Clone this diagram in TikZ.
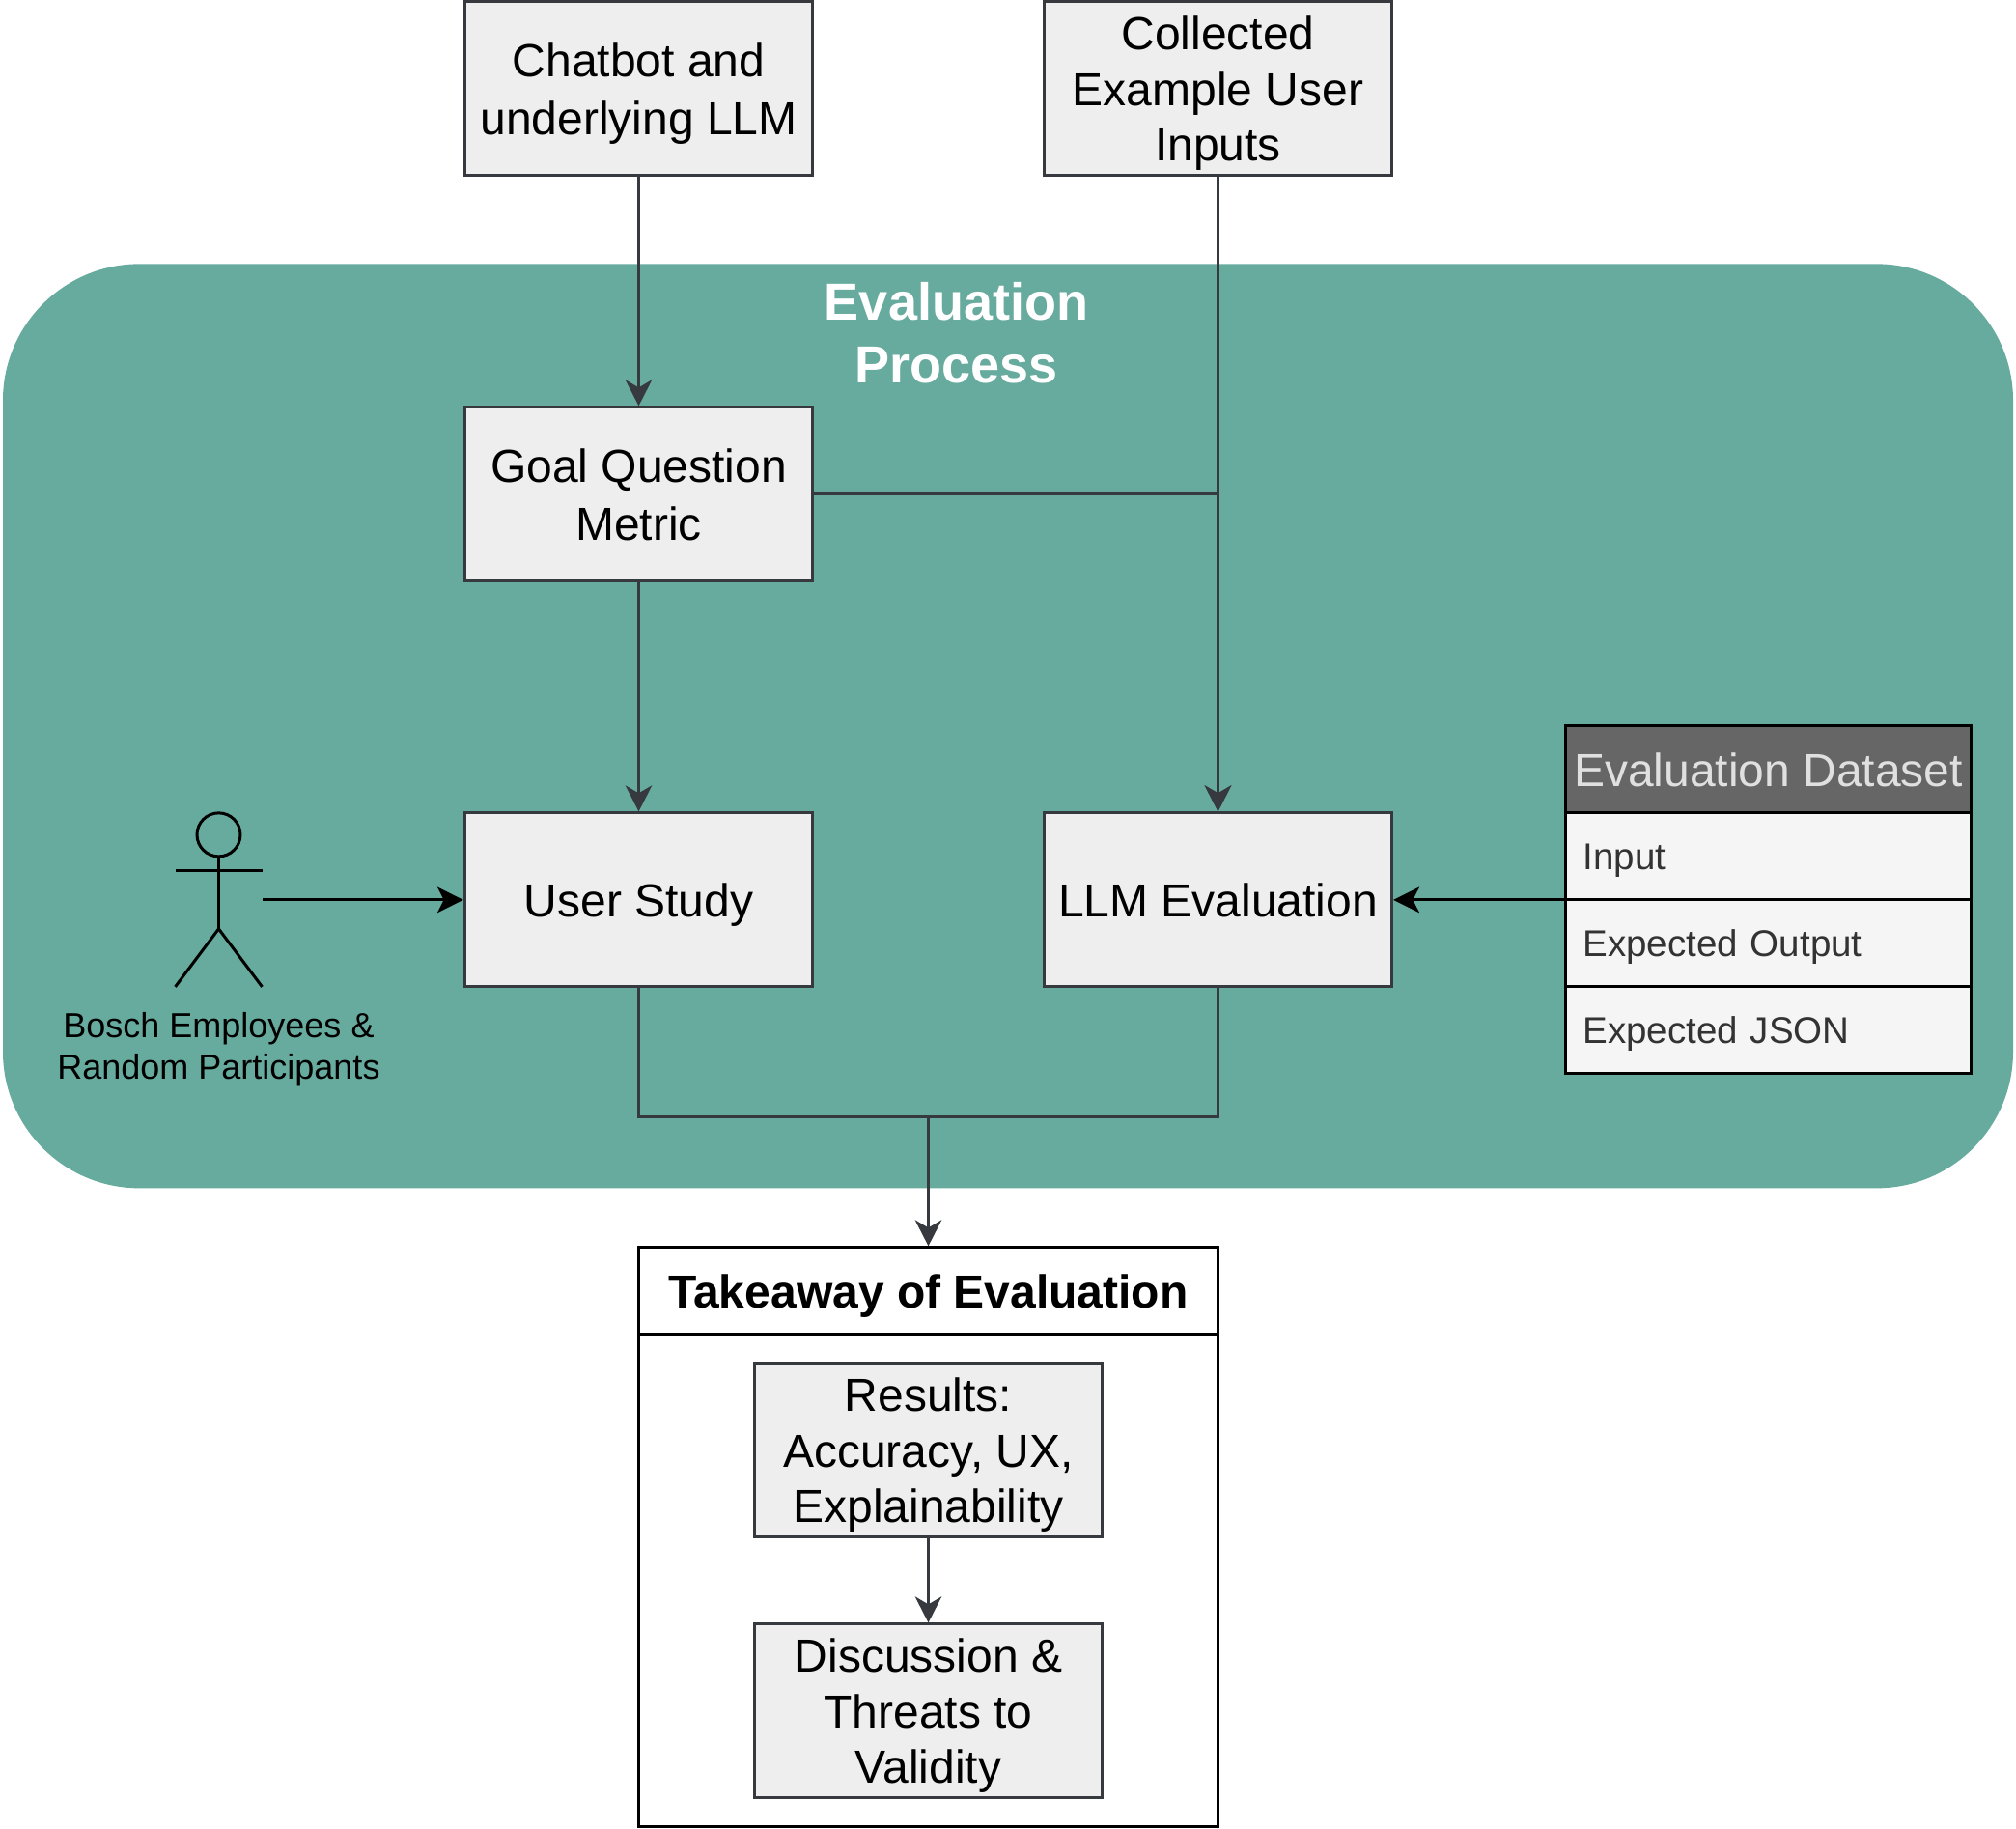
\documentclass[tikz,border=0pt]{standalone}
\usepackage{fontspec}
\setmainfont{Liberation Sans}
\usetikzlibrary{arrows.meta}
\definecolor{panelgreen}{HTML}{67AB9F}
\definecolor{boxfill}{HTML}{EEEEEE}
\definecolor{boxline}{HTML}{36393D}
\definecolor{headfill}{HTML}{666666}
\definecolor{headtext}{HTML}{E0E0E0}
\definecolor{rowfill}{HTML}{F5F5F5}
\definecolor{rowtext}{HTML}{333333}
\tikzset{
	box/.style={draw=boxline, fill=boxfill, line width=2.25pt, minimum width=270pt, minimum height=135pt, inner sep=0pt, text depth=0pt, align=center, font=\fontsize{36}{43.2}\selectfont},
	loosebox/.style={box, font=\fontsize{36}{45}\selectfont},
	wire/.style={draw=boxline, line width=2.25pt},
	link/.style={wire, -{Stealth[length=20.25pt, width=20.6pt, inset=6pt]}},
	blacklink/.style={black, line width=2.25pt, -{Stealth[length=20.25pt, width=20pt, inset=5pt]}},
	head/.style={draw=black, fill=headfill, text=headtext, line width=2.25pt, minimum width=315pt, minimum height=67.5pt, inner sep=0pt, font=\fontsize{36}{43.2}\selectfont},
	row/.style={draw=black, fill=rowfill, text=rowtext, line width=2.25pt, minimum height=67.5pt, text width=288pt, inner xsep=13.5pt, inner ysep=0pt, text depth=0pt, align=left, font=\fontsize{28.9}{35}\selectfont},
	stick/.style={black, line width=2.25pt},
}
\begin{document}
\begin{tikzpicture}[x=.75pt, y=-.75pt]
	\useasboundingbox (0,-.35) rectangle (2088,1892.65);
	
	\node[fill=panelgreen, rounded corners=106pt, minimum width=1561.5pt, minimum height=717.75pt, inner sep=0pt] (panel) at (1044,751.5){};
	\node[text=white, align=center, font=\bfseries\fontsize{40.5}{48.6}\selectfont] (title) at (990.5,344){Evaluation\\Process};
	
	\node[loosebox] (chatbot) at (661.5,91.5){Chatbot and\\underlying LLM};
	\node[box] (inputs) at (1261.5,91.5){Collected\\Example User\\Inputs};
	\node[loosebox] (gqm) at (661.5,511.5){Goal Question\\Metric};
	\node[box] (study) at (661.5,931.5){User Study};
	\node[box] (llm) at (1261.5,931.5){LLM Evaluation};
	
	\node[head] (dataset) at (1831.5,796.5){Evaluation Dataset};
	\node[row] (input) at (1831.5,886.5){Input};
	\node[row] (output) at (1831.5,976.5){Expected Output};
	\node[row] (json) at (1831.5,1066.5){Expected JSON};
	
	\node[minimum width=67.5pt, minimum height=135pt, inner sep=0pt, outer sep=0pt] (actor) at (226.5,931.5){};
	\draw[stick] (226.5,864) circle (22.5);
	\draw[stick] (226.5,886.5) -- (226.5,961.5);
	\draw[stick] (actor.west |- 0,901.5) -- (actor.east |- 0,901.5);
	\draw[stick] (actor.south west) -- (226.5,961.5) -- (actor.south east);
	\node[align=center, font=\fontsize{27}{32.4}\selectfont] (people) at (226.5,1086){Bosch Employees \&\\Random Participants};
	
	\node[draw=black, fill=white, line width=2.25pt, minimum width=450pt, minimum height=382.5pt, inner sep=0pt] (takebody) at (961.5,1636.5){};
	\node[draw=black, fill=white, line width=2.25pt, minimum width=450pt, minimum height=67.5pt, inner sep=0pt, text depth=0pt, font=\bfseries\fontsize{36}{43.2}\selectfont] (take) at (961.5,1336.5){Takeaway of Evaluation};
	\node[box] (results) at (961.5,1501.5){Results:\\Accuracy, UX,\\Explainability};
	\node[box] (threats) at (961.5,1771.5){Discussion \&\\Threats to\\Validity};
	
	\coordinate (merge) at (961.5,1156.5);
	
	\draw[link] (chatbot) -- (gqm);
	\draw[link] (inputs) -- (llm);
	\draw[link] (gqm.east) -| (llm.north);
	\draw[link] (gqm) -- (study);
	\draw[blacklink] (actor.east) -- (study.west);
	\draw[blacklink] (input.west |- llm.east) -- (llm.east);
	\draw[wire] (study.south) |- (merge);
	\draw[wire] (llm.south) |- (merge);
	\draw[link] (merge) -- (take.north);
	\draw[link] (results) -- (threats);
\end{tikzpicture}
\end{document}
